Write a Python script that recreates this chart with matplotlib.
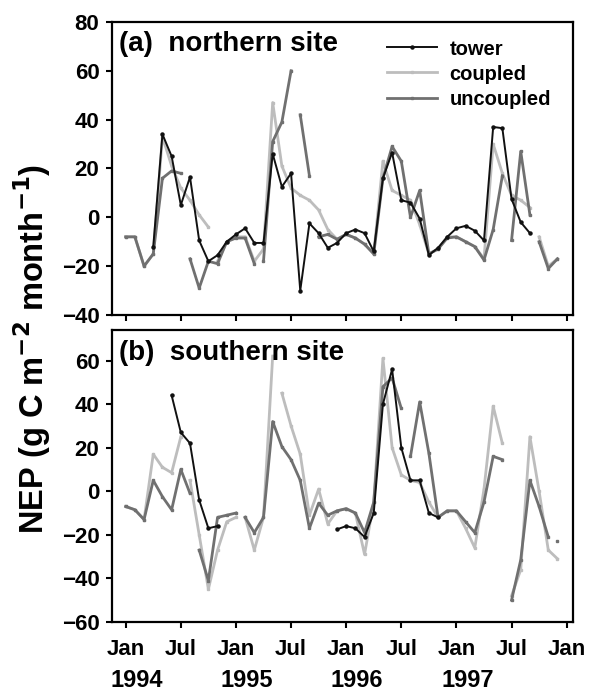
import matplotlib
matplotlib.use("Agg")
import matplotlib.pyplot as plt
import numpy as np

plt.rcParams["font.family"] = ["Liberation Sans", "DejaVu Sans"]
plt.rcParams["font.weight"] = "bold"

nan = np.nan
months = np.arange(48)  # months since Jan 1994

# northern site (a)
tower_a = [nan, nan, nan, -12, 34, 25, 5, 16.5, -9.5, -18, -15.5, -10,
           -7, -4.5, -10.5, -10.5, 26, 12.5, 18, -30, -2.5, -6.5, -12.5, -10.5,
           -6.5, -5, -6.5, -14, 16, 26.5, 7, 6, -0.5, -15.5, -12.5, -8,
           -4.5, -3.5, -5.5, -9.5, 37, 36.5, 7.5, -2, -6.5, nan, nan, nan]
coupled_a = [-8, -8, -20, -15, 33, 21, 12, 7, 1, -4, -18, -10,
             -8, -8, -18, -13, 47, 21, 12, 9, 7, 3, -5, -9,
             -7, -8.5, -11, -15, 23, 11, 9, 7, -3, -15, -13, -8,
             -8, -10, -12, -17, 30, 18, 9, 7, 4, -8, -20, -17]
uncoupled_a = [-8, -8, -20, -15, 16, 19, 18, -17, -29, -18, -19, -10,
               -8.5, -8.5, -19, -18, 31, 39, 60, 42, 17, -8, -7, -9,
               -7, -8.5, -11, -15, 16, 29, 23, 0, 11, -15, -13, -8.5,
               -8, -10, -12, -17.5, -5, 17, -9.5, 27, 1, -10, -21, -17]

# southern site (b)
tower_b = [nan, nan, nan, nan, nan, 44, 27, 22, -4, -17, -16, nan,
           nan, nan, nan, nan, nan, nan, nan, nan, nan, nan, nan, -17.5,
           -16, -17, -21, -10, 40, 56, 20, 5, 5, -10, -12, nan,
           nan, nan, nan, nan, nan, nan, nan, nan, nan, nan, nan, nan]
coupled_b = [-7, -8.5, -13, 17, 11, 8.5, 25, 5, -20, -45, -27, -14,
             -12, -12, -27, -12, 62, 45, 30, 17, -11, 1, -15, -9,
             -8, -10, -29, -5, 61, 20, 7.5, 5, 4, -5, -12, -9,
             -9, -17, -26, 1, 39, 22, -48, -36, 25, 0, -27, -31]
uncoupled_b = [-7, -8.5, -13, 5, -2.5, -8.5, 10, -1, -27, -41, -12, -11,
               -10, -12, -19, -12, 32, 20.5, 14.5, 5, -17, -5.5, -11, -9,
               -8, -10, -19, -5, 48, 52, 38, 16, 41, 17.5, -12, -9,
               -9, -14, -19, -5, 16, 14.5, -50, -31.5, 5, -7, -21, -23]

# months before which a line is broken
breaks_coupled_a = [10, 45]
breaks_uncoupled_a = [7, 15, 19, 21, 42, 45]
breaks_coupled_b = [7, 13, 17, 42]
breaks_uncoupled_b = [8, 13, 31, 42, 47]

tick_months = np.arange(0, 49, 6)
tick_labels = ["Jan", "Jul"] * 4 + ["Jan"]
years = [1994, 1995, 1996, 1997]


def with_breaks(vals, breaks):
    x = months.astype(float)
    y = np.array(vals, dtype=float)
    for b in sorted(breaks, reverse=True):
        x = np.insert(x, b, b - 0.5)
        y = np.insert(y, b, nan)
    return x, y


def draw(ax, tower, coupled, uncoupled, bc, bu):
    x, y = with_breaks(coupled, bc)
    ax.plot(x, y, color="#bdbdbd", lw=2.0, marker="s", ms=2, label="coupled")
    x, y = with_breaks(uncoupled, bu)
    ax.plot(x, y, color="#707070", lw=2.0, marker="s", ms=2, label="uncoupled")
    ax.plot(months, tower, color="#111111", lw=1.4, marker="o", ms=2.2,
            label="tower")
    ax.set_xlim(-1.5, 48.7)
    ax.set_xticks(tick_months)
    for s in ax.spines.values():
        s.set_linewidth(1.6)
    ax.tick_params(width=1.5, length=4, labelsize=16, pad=5)


fig = plt.figure(figsize=(5.89, 6.93), dpi=100)
ax1 = fig.add_axes([0.190, 0.5455, 0.783, 0.4228])
ax2 = fig.add_axes([0.190, 0.1025, 0.783, 0.4213])

draw(ax1, tower_a, coupled_a, uncoupled_a, breaks_coupled_a, breaks_uncoupled_a)
draw(ax2, tower_b, coupled_b, uncoupled_b, breaks_coupled_b, breaks_uncoupled_b)

ax1.set_ylim(-40, 80)
ax1.set_yticks(np.arange(-40, 81, 20))
ax1.set_xticklabels([])
ax2.set_ylim(-60, 74)
ax2.set_yticks(np.arange(-60, 61, 20))
ax2.set_xticklabels(tick_labels)
ax2.tick_params(axis="x", pad=8)

for yr in years:
    ax2.annotate(str(yr), xy=((yr - 1994) * 12 + 1.2, 0),
                 xycoords=("data", "axes fraction"), xytext=(0, -42),
                 textcoords="offset points", ha="center", va="center",
                 fontsize=17, fontweight="bold", annotation_clip=False)

ax1.text(0.016, 0.925, "(a)  northern site", transform=ax1.transAxes,
         fontsize=20, fontweight="bold", va="center")
ax2.text(0.016, 0.92, "(b)  southern site", transform=ax2.transAxes,
         fontsize=20, fontweight="bold", va="center")

h, l = ax1.get_legend_handles_labels()
order = [2, 0, 1]
fig.legend([h[i] for i in order], [l[i] for i in order], loc="upper left",
           bbox_to_anchor=(0.657, 0.943), frameon=False, fontsize=14.5,
           handlelength=2.5, handletextpad=0.6, labelspacing=0.3,
           borderpad=0, borderaxespad=0)

fig.text(0.055, 0.497, "NEP (g C m$^{\\mathbf{-2}}$ month$^{\\mathbf{-1}}$)",
         rotation=90, fontsize=23.5, fontweight="bold", ha="center", va="center")

fig.savefig("out.png", dpi=100)
